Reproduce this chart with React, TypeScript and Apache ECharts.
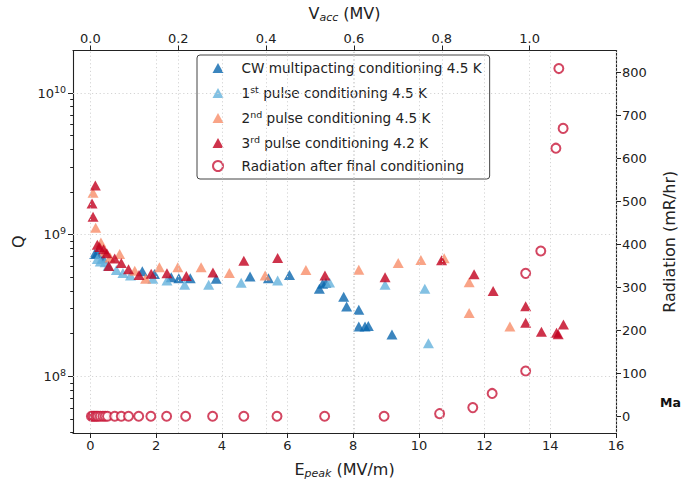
import React, { useEffect, useRef } from 'react';
import * as echarts from 'echarts';

// ---------- data ----------
const cwE = [0.13, 0.2, 0.38, 1.58, 1.95, 2.46, 2.69, 3.04, 3.83, 4.86, 5.42, 6.06, 6.97, 7.07, 7.17, 7.71, 7.8, 8.17, 8.17, 8.36, 8.46, 9.18];
const cwQ = [7.3e8, 7.4e8, 6.8e8, 5.51e8, 5.28e8, 5.01e8, 4.93e8, 4.93e8, 4.88e8, 5.06e8, 4.93e8, 5.2e8, 4.15e8, 4.5e8, 4.57e8, 3.64e8, 3.11e8, 2.95e8, 2.25e8, 2.25e8, 2.27e8, 1.97e8];

const p1E = [0.21, 0.3, 0.45, 0.54, 0.79, 0.99, 1.22, 1.9, 2.33, 2.87, 3.6, 4.59, 5.7, 7.28, 8.97, 10.18, 10.29];
const p1Q = [6.73e8, 6.46e8, 6.38e8, 6.04e8, 5.64e8, 5.37e8, 5.14e8, 4.88e8, 4.74e8, 4.43e8, 4.43e8, 4.57e8, 4.74e8, 4.6e8, 4.43e8, 4.15e8, 1.71e8];

const p2E = [0.08, 0.16, 0.32, 0.45, 0.6, 0.89, 1.35, 1.68, 2.1, 2.66, 3.37, 4.23, 5.32, 6.56, 8.17, 9.37, 10.06, 10.77, 11.53, 11.53, 12.77];
const p2Q = [1.98e9, 1.12e9, 8.8e8, 7.6e8, 6.9e8, 7.3e8, 5.57e8, 4.88e8, 5.89e8, 5.89e8, 5.89e8, 5.37e8, 5.14e8, 5.64e8, 5.66e8, 6.31e8, 6.62e8, 6.81e8, 4.62e8, 2.8e8, 2.25e8];

const p3E = [0.05, 0.08, 0.15, 0.21, 0.28, 0.4, 0.5, 0.56, 0.74, 0.94, 1.16, 1.48, 1.85, 2.33, 2.92, 3.73, 4.67, 5.7, 7.14, 8.97, 10.69, 11.68, 12.26, 13.25, 13.25, 13.73, 14.19, 14.24, 14.4];
const p3Q = [1.66e9, 1.34e9, 2.22e9, 8.5e8, 8.2e8, 7.9e8, 7.4e8, 6.0e8, 6.8e8, 6.3e8, 5.7e8, 5.2e8, 5.3e8, 5.35e8, 5.1e8, 5.4e8, 6.55e8, 6.85e8, 5.15e8, 5.0e8, 6.6e8, 5.25e8, 4.0e8, 3.13e8, 2.39e8, 2.06e8, 2.03e8, 1.98e8, 2.32e8];

const radE = [0.03, 0.08, 0.13, 0.18, 0.23, 0.3, 0.38, 0.45, 0.52, 0.74, 0.94, 1.16, 1.47, 1.84, 2.32, 2.9, 3.72, 4.67, 5.68, 7.13, 8.94, 10.63, 11.64, 12.23, 13.25, 13.25, 13.71, 14.17, 14.26, 14.39];
const radR = [0, 0, 0, 0, 0, 0, 0, 0, 0, 0, 0, 0, 0, 0, 0, 0, 0, 0, 0, 0, 0, 6, 20, 53, 105, 332, 384, 623, 808, 669];

const eTicks = [0, 2, 4, 6, 8, 10, 12, 14, 16];
const vTicks = [0, 0.2, 0.4, 0.6, 0.8, 1.0];
const qDecades = [8, 9, 10];
const radTicks = [0, 100, 200, 300, 400, 500, 600, 700, 800];

const seriesNames = [
  'CW multipacting conditioning 4.5 K',
  '1st pulse conditioning 4.5 K',
  '2nd pulse conditioning 4.5 K',
  '3rd pulse conditioning 4.2 K',
  'Radiation after final conditioning',
];
const legendLabels: Record<string, string> = {
  'CW multipacting conditioning 4.5 K': 'CW multipacting conditioning 4.5 K',
  '1st pulse conditioning 4.5 K': '1{sup|st} pulse conditioning 4.5 K',
  '2nd pulse conditioning 4.5 K': '2{sup|nd} pulse conditioning 4.5 K',
  '3rd pulse conditioning 4.2 K': '3{sup|rd} pulse conditioning 4.2 K',
  'Radiation after final conditioning': 'Radiation after final conditioning',
};
const colors = ['#0a66ae', '#64b2dc', '#f88d69', '#c2001e', '#c8183a'];

// axis extents
const E_MIN = -0.53;
const E_MAX = 16;
const E_PER_V = 13.37;
const LQ_MIN = 7.6;
const LQ_MAX = 10.3;
const R_MIN = -39;
const R_MAX = 850;

const FONT = 'DejaVu Sans';

export default function App() {
  const ref = useRef<HTMLDivElement>(null);
  useEffect(() => {
    if (!ref.current) return;
    const chart = echarts.init(ref.current, undefined, { renderer: 'svg' });

    const minor: number[] = [];
    for (let n = 7; n <= 10; n++) {
      for (let k = 2; k <= 9; k++) {
        const v = n + Math.log10(k);
        if (v > LQ_MIN && v < LQ_MAX) minor.push(v);
      }
    }

    const tri = (xs: number[], qs: number[]) => xs.map((e, i) => [e, Math.log10(qs[i])]);
    const gridLine = { type: [1.2, 2.6] as any, color: '#d4d4d4', width: 1 };
    const axisLineStyle = { color: '#222', width: 1.1 };

    const option: any = {
      animation: false,
      backgroundColor: '#fff',
      grid: { left: 73, right: 67, top: 50, bottom: 49 },
      xAxis: [
        {
          type: 'value', position: 'bottom', min: E_MIN, max: E_MAX,
          axisLine: { show: true, onZero: false, lineStyle: axisLineStyle },
          axisTick: { show: true, length: 5, customValues: eTicks, lineStyle: { color: '#222' } },
          axisLabel: { customValues: eTicks, fontFamily: FONT, fontSize: 13, color: '#222', margin: 6 },
          splitLine: { show: false },
          name: '{n|E}{sub|peak}{n| (MV/m)}',
          nameLocation: 'middle', nameGap: 27,
          nameTextStyle: {
            rich: {
              n: { fontFamily: FONT, fontSize: 16, color: '#222' },
              sub: { fontFamily: FONT, fontSize: 11, fontStyle: 'italic', color: '#222', padding: [8, 0, 0, 0] },
            },
          },
        },
        {
          type: 'value', position: 'top', min: E_MIN / E_PER_V, max: E_MAX / E_PER_V,
          axisLine: { show: true, onZero: false, lineStyle: axisLineStyle },
          axisTick: { show: true, length: 5, customValues: vTicks, lineStyle: { color: '#222' } },
          axisLabel: { customValues: vTicks, formatter: (v: number) => v.toFixed(1), fontFamily: FONT, fontSize: 13, color: '#222', margin: 6 },
          splitLine: { show: false },
          name: '{n|V}{sub|acc}{n| (MV)}',
          nameLocation: 'middle', nameGap: 28,
          nameTextStyle: {
            rich: {
              n: { fontFamily: FONT, fontSize: 16, color: '#222' },
              sub: { fontFamily: FONT, fontSize: 11, fontStyle: 'italic', color: '#222', padding: [8, 0, 0, 0] },
            },
          },
        },
      ],
      yAxis: [
        {
          type: 'value', position: 'left', min: LQ_MIN, max: LQ_MAX,
          axisLine: { show: true, onZero: false, lineStyle: axisLineStyle },
          axisTick: { show: true, length: 5, customValues: qDecades, lineStyle: { color: '#222' } },
          axisLabel: {
            customValues: qDecades,
            formatter: (v: number) => '{b|10}{s|' + Math.round(v) + '}',
            margin: 7,
            rich: {
              b: { fontFamily: FONT, fontSize: 13, color: '#222' },
              s: { fontFamily: FONT, fontSize: 9.5, color: '#222', padding: [0, 0, 8, 0] },
            },
          },
          splitLine: { show: false },
          name: 'Q', nameLocation: 'middle', nameGap: 46,
          nameTextStyle: { fontFamily: FONT, fontSize: 16, color: '#222' },
        },
        {
          type: 'value', position: 'left', min: LQ_MIN, max: LQ_MAX,
          axisLine: { show: false, onZero: false },
          axisTick: { show: true, length: 2.8, customValues: minor, lineStyle: { color: '#222' } },
          axisLabel: { show: false },
          splitLine: { show: false },
        },
        {
          type: 'value', position: 'right', min: R_MIN, max: R_MAX,
          axisLine: { show: true, onZero: false, lineStyle: axisLineStyle },
          axisTick: { show: true, length: 5, customValues: radTicks, lineStyle: { color: '#222' } },
          axisLabel: { customValues: radTicks, fontFamily: FONT, fontSize: 13, color: '#222', margin: 6 },
          splitLine: { show: false },
          name: 'Radiation (mR/hr)', nameLocation: 'middle', nameGap: 45, nameRotate: 90,
          nameTextStyle: { fontFamily: FONT, fontSize: 16, color: '#222' },
        },
      ],
      legend: {
        orient: 'vertical', left: 197, top: 55,
        data: seriesNames.map((n, i) => ({ name: n, icon: i === 4 ? 'emptyCircle' : 'triangle' })),
        itemWidth: 11, itemHeight: 10, itemGap: 9,
        padding: [6, 8, 6, 15],
        borderColor: '#444', borderWidth: 1, borderRadius: 3,
        backgroundColor: 'rgba(255,255,255,0.9)',
        formatter: (n: string) => legendLabels[n],
        textStyle: {
          fontFamily: FONT, fontSize: 13.6, color: '#222', padding: [0, 0, 0, 13],
          rich: { sup: { fontFamily: FONT, fontSize: 9.5, color: '#222', padding: [0, 0, 8, 0] } },
        },
      },
      graphic: [
        { type: 'text', left: 660, top: 396, style: { text: 'Ma', fontFamily: FONT, fontWeight: 'bold', fontSize: 12.5, fill: '#111' } },
      ],
      series: [
        {
          type: 'scatter', name: '_gridE', xAxisIndex: 0, yAxisIndex: 0, data: [], silent: true, z: 0,
          markLine: {
            silent: true, symbol: ['none', 'none'], label: { show: false }, lineStyle: gridLine, animation: false,
            data: [...eTicks.map((v) => ({ xAxis: v })), ...qDecades.map((v) => ({ yAxis: v }))],
          },
        },
        {
          type: 'scatter', name: '_gridV', xAxisIndex: 1, yAxisIndex: 0, data: [], silent: true, z: 0,
          markLine: {
            silent: true, symbol: ['none', 'none'], label: { show: false }, lineStyle: gridLine, animation: false,
            data: vTicks.slice(1).map((v) => ({ xAxis: v })),
          },
        },
        { type: 'scatter', name: seriesNames[0], xAxisIndex: 0, yAxisIndex: 0, symbol: 'triangle', symbolSize: [11, 10], itemStyle: { color: colors[0] }, data: tri(cwE, cwQ), z: 3 },
        { type: 'scatter', name: seriesNames[1], xAxisIndex: 0, yAxisIndex: 0, symbol: 'triangle', symbolSize: [11, 10], itemStyle: { color: colors[1] }, data: tri(p1E, p1Q), z: 3 },
        { type: 'scatter', name: seriesNames[2], xAxisIndex: 0, yAxisIndex: 0, symbol: 'triangle', symbolSize: [11, 10], itemStyle: { color: colors[2] }, data: tri(p2E, p2Q), z: 3 },
        { type: 'scatter', name: seriesNames[3], xAxisIndex: 0, yAxisIndex: 0, symbol: 'triangle', symbolSize: [11, 10], itemStyle: { color: colors[3] }, data: tri(p3E, p3Q), z: 3 },
        {
          type: 'scatter', name: seriesNames[4], xAxisIndex: 0, yAxisIndex: 2, symbol: 'emptyCircle', symbolSize: 9,
          itemStyle: { color: colors[4], borderColor: colors[4], borderWidth: 1.3 },
          data: radE.map((e, i) => [e, radR[i]]), z: 3,
        },
      ],
    };
    chart.setOption(option);
    return () => chart.dispose();
  }, []);
  return <div ref={ref} style={{ position: 'fixed', left: 0, top: 0, width: 685, height: 484 }} />;
}
